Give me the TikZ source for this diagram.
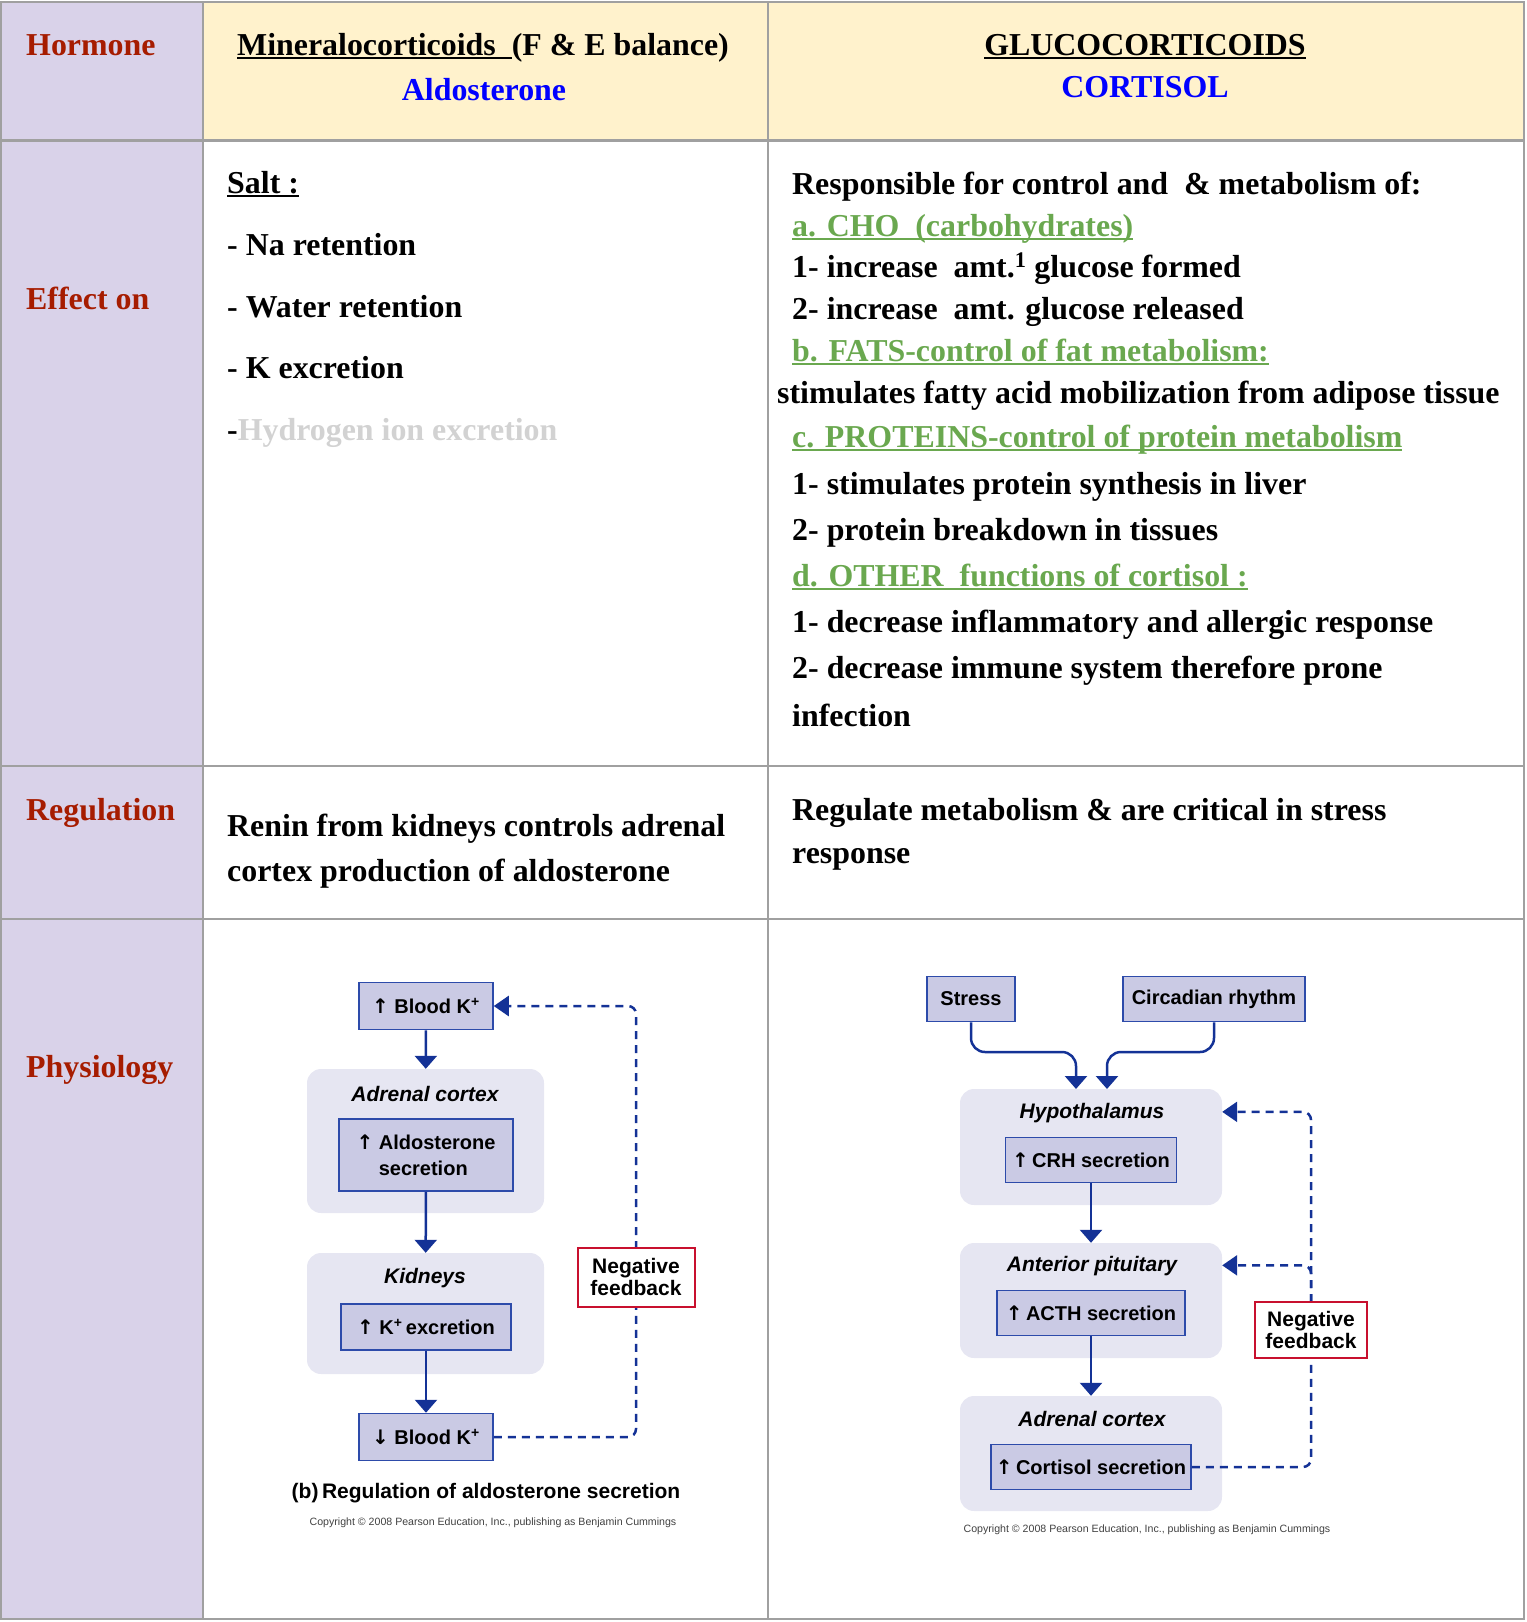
\documentclass[tikz,border=0pt]{standalone}
\usepackage{fontspec}
\setmainfont{Liberation Serif}
\newfontfamily\dsans{Liberation Sans}
\newfontfamily\symfont{DejaVu Sans}
\newsavebox{\myulbox}
\newcommand{\myul}[1]{\sbox{\myulbox}{#1}\rlap{\rule[-4pt]{\wd\myulbox}{2pt}}\usebox{\myulbox}}
\usetikzlibrary{arrows.meta,calc}
\definecolor{lav}{RGB}{217,210,233}
\definecolor{yel}{RGB}{255,242,204}
\definecolor{gridc}{RGB}{160,160,160}
\definecolor{hred}{RGB}{166,28,0}
\definecolor{hblue}{RGB}{0,0,255}
\definecolor{grn}{RGB}{106,168,79}
\definecolor{lgray}{RGB}{210,210,210}
\definecolor{bxf}{RGB}{202,202,228}
\definecolor{bxb}{RGB}{45,75,170}
\definecolor{bgf}{RGB}{230,230,242}
\definecolor{arc}{RGB}{20,50,150}
\definecolor{nred}{RGB}{200,16,46}
\newcommand{\upa}{{\symfont\bfseries ↑}}
\newcommand{\dna}{{\symfont\bfseries ↓}}
\begin{document}
\begin{tikzpicture}[x=1pt,y=-1pt,
  tx/.style={anchor=base west, inner sep=0pt, font=\bfseries\fontsize{31.9}{38}\selectfont},
  hd/.style={anchor=base, inner sep=0pt, font=\bfseries\fontsize{31.9}{38}\selectfont},
  lab/.style={tx, text=hred},
  grid/.style={draw=gridc, line width=2pt},
  dbox/.style={draw=bxb, fill=bxf, line width=1.5pt, inner sep=0pt, font=\dsans\bfseries\fontsize{20}{26}\selectfont},
  bgbox/.style={fill=bgf, rounded corners=14pt, inner sep=0pt},
  organ/.style={inner sep=0pt, font=\dsans\bfseries\itshape\fontsize{21}{24}\selectfont},
  negbox/.style={draw=nred, fill=white, line width=2pt, inner sep=0pt, align=center, font=\dsans\bfseries\fontsize{21}{22}\selectfont},
  arr/.style={draw=arc, line width=2.5pt, -{Triangle[width=22pt,length=13pt]}},
  fb/.style={draw=arc, line width=2.5pt, dash pattern=on 8pt off 6pt, rounded corners=8pt},
  fbarr/.style={fb, -{Triangle[width=20pt,length=15pt]}},
  copy/.style={inner sep=0pt, text=black!75, font=\dsans\fontsize{10.6}{12}\selectfont}
]
\useasboundingbox (0,0) rectangle (1526,1622);
% table fills
\fill[lav] (1,2) rectangle (203,1619);
\fill[yel] (203,2) rectangle (1524,140);
% grid
\draw[grid] (1,2) rectangle (1524,1619);
\draw[grid] (203,2) -- (203,1619);
\draw[grid] (768,2) -- (768,1619);
\draw[grid, line width=3pt] (1,140) -- (1524,140);
\draw[grid] (1,766) -- (1524,766);
\draw[grid] (1,919) -- (1524,919);

% column 1 labels
\node[lab] (lhorm) at (26,55) {Hormone};
\node[lab] (leff) at (26,309) {Effect on};
\node[lab] (lreg) at (26,820) {Regulation};
\node[lab] (lphys) at (26,1077) {Physiology};

% header
\node[hd] (hmin) at (483,55) {\myul{Mineralocorticoids\ \ }(F \& E balance)};
\node[hd, text=hblue] (hald) at (484,100) {Aldosterone};
\node[hd] (hglu) at (1145,55) {\myul{GLUCOCORTICOIDS}};
\node[hd, text=hblue] (hcor) at (1145,97) {CORTISOL};

% effect col 2
\node[tx] (salt) at (227,193) {\myul{Salt :}};
\node[tx] (na) at (227,255) {- Na retention};
\node[tx] (wat) at (227,317) {- Water retention};
\node[tx] (kex) at (227,378) {- K excretion};
\node[tx] (hyd) at (227,440) {-\textcolor{lgray}{Hydrogen ion excretion}};

% effect col 3
\node[tx] (e1) at (792,194) {Responsible for control and\ \ \& metabolism of:};
\node[tx, text=grn] (e2) at (792,236) {\myul{a. CHO\ \ (carbohydrates)}};
\node[tx] (e3) at (792,277) {1- increase\ \ amt.\textsuperscript{1} glucose formed};
\node[tx] (e4) at (792,319) {2- increase\ \ amt. glucose released};
\node[tx, text=grn] (e5) at (792,361) {\myul{b. FATS-control of fat metabolism:}};
\node[tx] (e6) at (777,403) {stimulates fatty acid mobilization from adipose tissue};
\node[tx, text=grn] (e7) at (792,447) {\myul{c. PROTEINS-control of protein metabolism}};
\node[tx] (e8) at (792,494) {1- stimulates protein synthesis in liver};
\node[tx] (e9) at (792,540) {2- protein breakdown in tissues};
\node[tx, text=grn] (e10) at (792,586) {\myul{d. OTHER\ \ functions of cortisol :}};
\node[tx] (e11) at (792,632) {1- decrease inflammatory and allergic response};
\node[tx] (e12) at (792,678) {2- decrease immune system therefore prone};
\node[tx] (e13) at (792,726) {infection};

% regulation
\node[tx] (r1) at (227,836) {Renin from kidneys controls adrenal};
\node[tx] (r2) at (227,881) {cortex production of aldosterone};
\node[tx] (r3) at (792,820) {Regulate metabolism \& are critical in stress};
\node[tx] (r4) at (792,863) {response};

% ---------- left diagram ----------
\node[bgbox, minimum width=237pt, minimum height=144pt] (acbg) at (425.5,1141) {};
\node[bgbox, minimum width=237pt, minimum height=121pt] (kidbg) at (425.5,1313.5) {};
\node[organ] (acl) at (425,1094) {Adrenal cortex};
\node[organ] (kidl) at (425,1278) {Kidneys};
\node[dbox, minimum width=134pt, minimum height=47pt] (bk1) at (426,1006) {\upa\ Blood K\textsuperscript{+}};
\node[dbox, minimum width=174pt, minimum height=72pt, align=left] (ald) at (426,1155) {\upa\ Aldosterone\\\phantom{\upa\ }secretion};
\node[dbox, minimum width=170pt, minimum height=46pt] (kexc) at (426,1327) {\upa\ K\textsuperscript{+}\,excretion};
\node[dbox, minimum width=134pt, minimum height=47pt] (bk2) at (426,1437) {\dna\ Blood K\textsuperscript{+}};
\draw[arr] (bk1) -- (acbg);
\draw[arr] (ald) -- (kidbg);
\draw[arr] (kexc) -- (bk2);
\coordinate (negc1) at (636,1277);
\draw[fb] (bk2.east) -| (negc1);
\draw[fbarr] (negc1) |- (bk1.east);
\node[negbox, minimum width=117pt, minimum height=59pt] (neg1) at (negc1) {Negative\\feedback};
\node[inner sep=0pt, font=\dsans\bfseries\fontsize{21}{24}\selectfont] (capb) at (486,1493) {(b)\,Regulation of aldosterone secretion};
\node[copy] (copy1) at (493,1523) {Copyright © 2008 Pearson Education, Inc., publishing as Benjamin Cummings};

% ---------- right diagram ----------
\node[bgbox, minimum width=262pt, minimum height=116pt] (hypbg) at (1091,1147) {};
\node[bgbox, minimum width=262pt, minimum height=115pt] (pitbg) at (1091,1300.5) {};
\node[bgbox, minimum width=262pt, minimum height=115pt] (adrbg) at (1091,1453.5) {};
\node[organ] (hypl) at (1092,1113) {Hypothalamus};
\node[organ] (pitl) at (1092,1266) {Anterior pituitary};
\node[organ] (adrl) at (1092,1419) {Adrenal cortex};
\node[dbox, minimum width=88pt, minimum height=45pt] (stress) at (971,999) {Stress};
\node[dbox, minimum width=182pt, minimum height=45pt] (circ) at (1214,999) {Circadian rhythm};
\node[dbox, minimum width=171pt, minimum height=45pt] (crh) at (1091,1160) {\upa\,CRH secretion};
\node[dbox, minimum width=188pt, minimum height=45pt] (acth) at (1091,1313) {\upa\,ACTH secretion};
\node[dbox, minimum width=200pt, minimum height=45pt] (cort) at (1091,1467) {\upa\,Cortisol secretion};
\coordinate (hin1) at (1076,1089);
\coordinate (hin2) at (1107,1089);
\draw[arr, rounded corners=14pt] (stress.south) |- ([yshift=37pt]hin1) -- (hin1);
\draw[arr, rounded corners=14pt] (circ.south) |- ([yshift=37pt]hin2) -- (hin2);
\draw[arr] (crh) -- (pitbg);
\draw[arr] (acth) -- (adrbg);
\coordinate (negc2) at (1311,1330);
\draw[fb] (cort.east) -| (negc2);
\draw[fbarr] (negc2) |- (hypbg.15);
\draw[fbarr] (negc2) |- (pitbg.15.6);
\node[negbox, minimum width=112pt, minimum height=56pt] (neg2) at (negc2) {Negative\\feedback};
\node[copy] (copy2) at (1147,1530) {Copyright © 2008 Pearson Education, Inc., publishing as Benjamin Cummings};
\end{tikzpicture}
\end{document}
